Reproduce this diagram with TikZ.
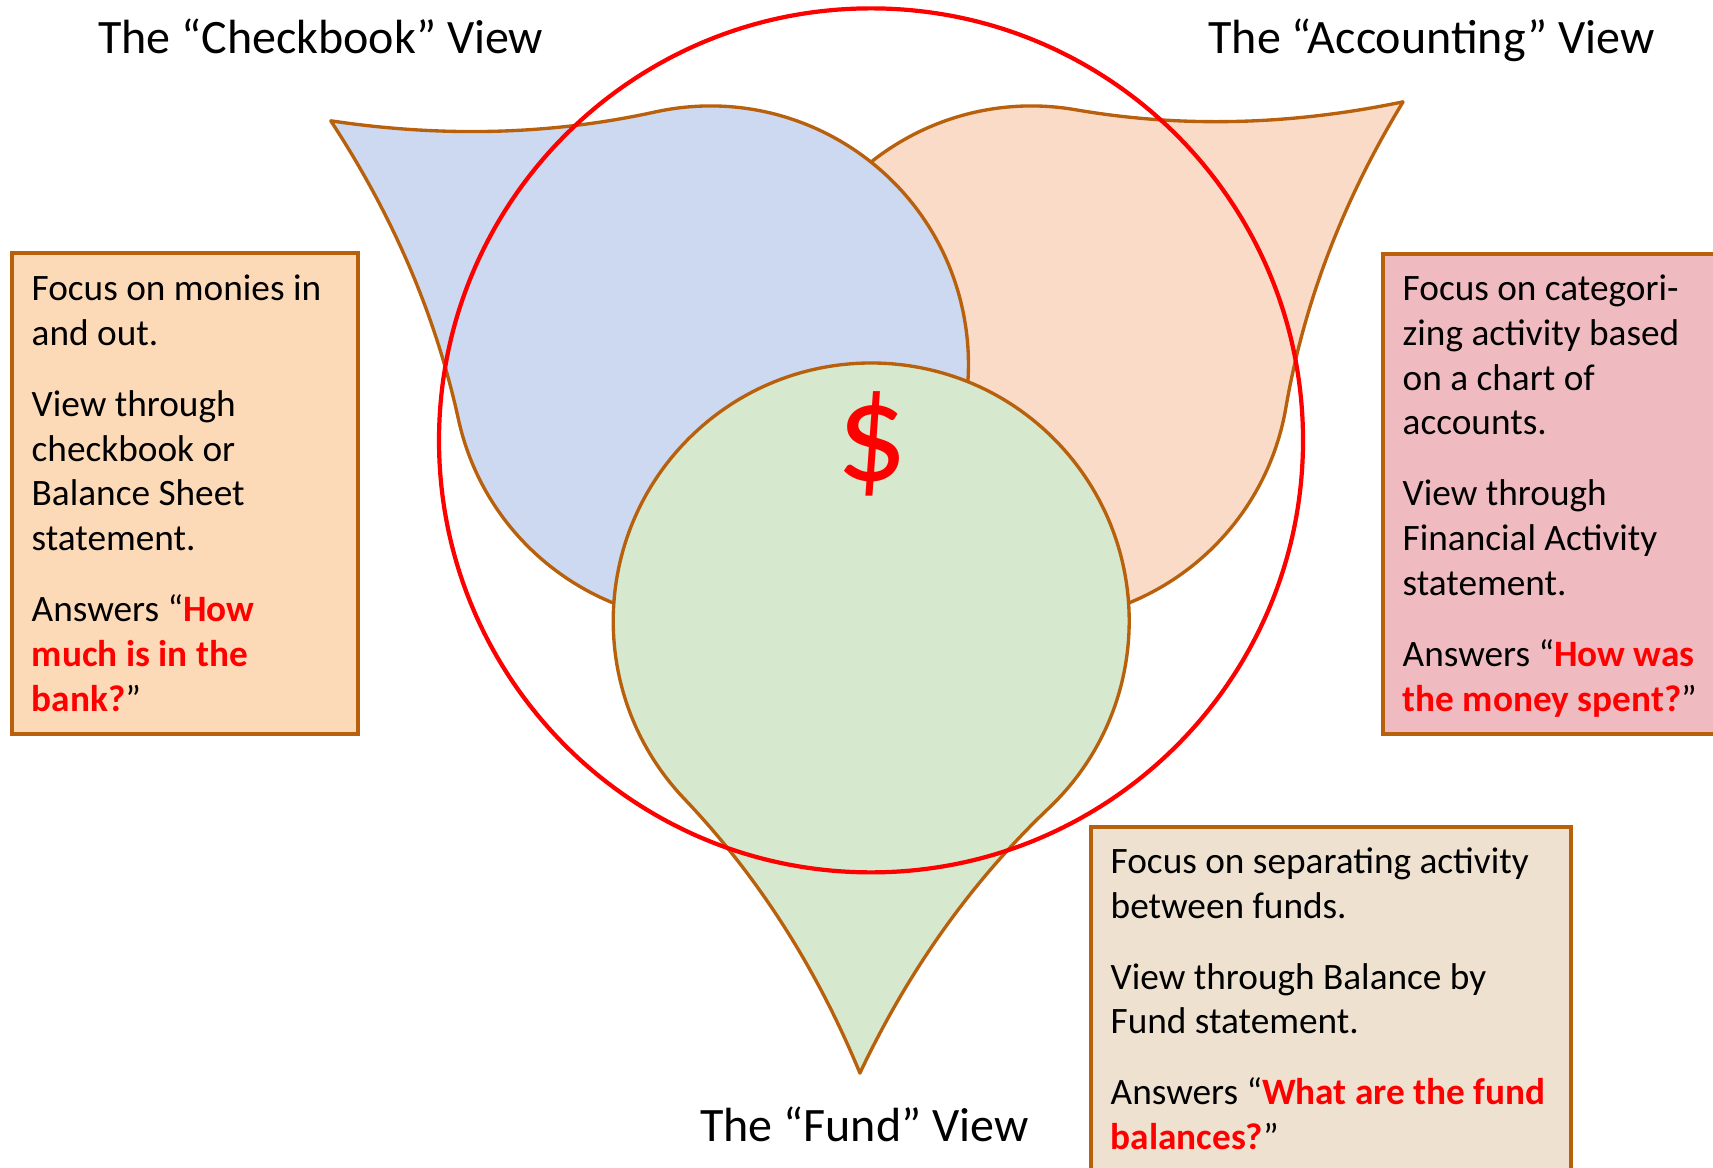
\documentclass[tikz,border=0pt]{standalone}
\usepackage{fontspec}
\setmainfont{Carlito}
\usepackage{xcolor}
\definecolor{edgebrown}{HTML}{B8600C}
\definecolor{fillblue}{HTML}{CCD9F0}
\definecolor{fillorange}{HTML}{F9DBC8}
\definecolor{fillgreen}{HTML}{D6E8CD}
\definecolor{boxpeach}{HTML}{FCDAB8}
\definecolor{boxpink}{HTML}{EFBBC0}
\definecolor{boxbeige}{HTML}{EEE1D0}
\definecolor{ringred}{HTML}{FF0000}
\newcommand\hl[1]{{\color{ringred}\bfseries #1}}
% #1 style, #2 cx, #3 cy, #4 rotation, #5 r*a
\newcommand\mytear[5]{%
  \begin{scope}[shift={(#2,#3)}, rotate=#4]
    \path[#1] (-258,0) arc[start angle=180, end angle=90, radius=258]
      .. controls ({#5/3},258) and ({2*#5/3},{#5/3+172}) .. (#5,#5)
      .. controls ({#5/3+172},{2*#5/3}) and (258,{#5/3}) .. (258,0)
      arc[start angle=0, end angle=-180, radius=258] -- cycle;
  \end{scope}}
\begin{document}
\begin{tikzpicture}[x=0.01cm,y=0.01cm,
  petal/.style={draw=edgebrown, line width=0.95pt, line join=round},
  infobox/.style={draw=edgebrown, line width=1.1pt},
  boxtext/.style={anchor=base west, inner sep=0pt, align=left,
    font=\fontsize{10.6}{12.74}\selectfont},
  viewtitle/.style={anchor=base, inner sep=0pt,
    font=\fontsize{13.65}{16}\selectfont}]
\clip (0,0) rectangle (1713,1168);
\fill[white] (0,0) rectangle (1713,1168);

% info boxes
\path[infobox, fill=boxpeach] (12,434) rectangle (358,915);
\path[infobox, fill=boxpink] (1383,434) rectangle (1740,914);
\path[infobox, fill=boxbeige] (1091,-20) rectangle (1571,341.3);

% petals (orange behind blue, green on top)
\mytear{petal, fill=fillorange}{1031.6}{804}{-9.79}{321.5}
\mytear{petal, fill=fillblue}{710.4}{804}{102.36}{318.8}
\mytear{petal, fill=fillgreen}{871.2}{547}{-136.43}{319.8}

% red ring
\draw[ringred, line width=1.2pt] (871,727.6) circle[radius=432];

% dollar
\node[text=ringred, inner sep=0pt, font=\fontsize{40}{46}\selectfont] (dollar) at (871.7,724.4) {\$};

% titles
\node[viewtitle] (tcheck) at (320.8,1114.4) {The “Checkbook” View};
\node[viewtitle] (tacc) at (1431.7,1114.4) {The “Accounting” View};
\node[viewtitle] (tfund) at (864.4,26.7) {The “Fund” View};

% box texts (base anchor = baseline of the last line)
\node[boxtext] (lefttext) at (31,456.7) {Focus on monies in\\
and out.\\[7.45pt]
View through\\
checkbook or\\
Balance Sheet\\
statement.\\[7.45pt]
Answers “\hl{How}\\
\hl{much is in the}\\
\hl{bank?}”};

\node[boxtext] (righttext) at (1402,456.7) {Focus on categori-\\
zing activity based\\
on a chart of\\
accounts.\\[7.45pt]
View through\\
Financial Activity\\
statement.\\[7.45pt]
Answers “\hl{How was}\\
\hl{the money spent?}”};

\node[boxtext] (bottomtext) at (1110,18.3) {Focus on separating activity\\
between funds.\\[7.45pt]
View through Balance by\\
Fund statement.\\[7.45pt]
Answers “\hl{What are the fund}\\
\hl{balances?}”};
\end{tikzpicture}
\end{document}
